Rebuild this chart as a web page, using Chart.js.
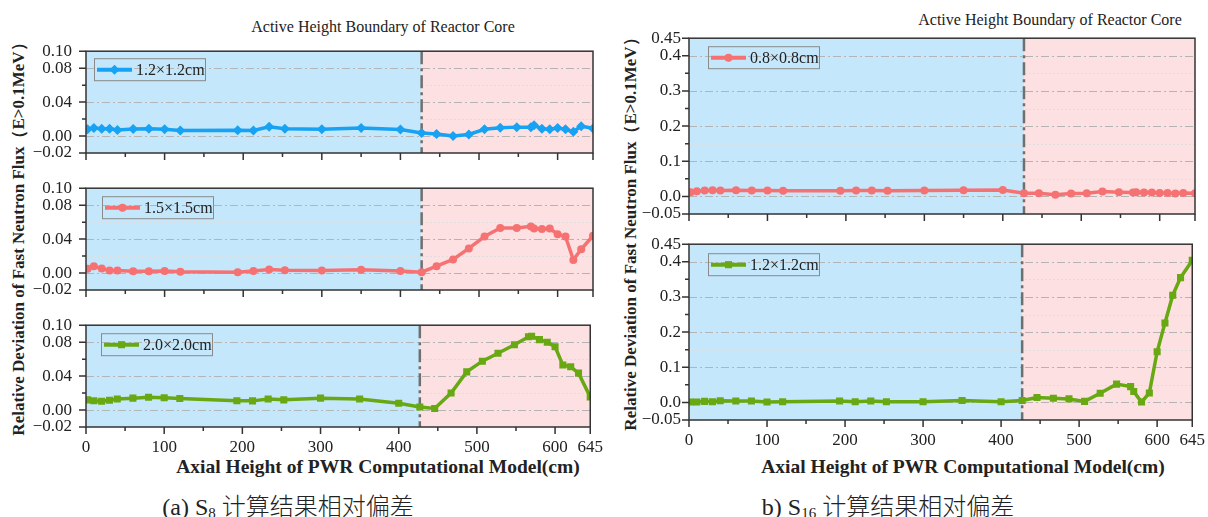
<!DOCTYPE html>
<html>
<head>
<meta charset="utf-8">
<script src="https://cdn.jsdelivr.net/npm/chart.js@4.4.1/dist/chart.umd.min.js"></script>
<style>
body { margin: 0; background: #fff; width: 1208px; height: 517px; position: relative; overflow: hidden;
       font-family: "Liberation Serif", "Times New Roman", serif; color: #222; }
canvas { position: absolute; }
.txt { position: absolute; white-space: nowrap; transform: translate(-50%, -50%); }
.ytitle { position: absolute; white-space: nowrap; font-weight: bold; font-size: 17px;
          transform: translate(-50%, -50%) rotate(-90deg); }
.xtitle { font-weight: bold; font-size: 19.5px; }
.note { font-size: 16px; }
.cap { font-size: 24px; }
.cap .cn { font-family: "Noto Sans CJK SC", sans-serif; font-weight: 300; }
.cap sub { font-size: 15px; vertical-align: -3px; }
</style>
</head>
<body>

<div class="ytitle" style="left:18px;top:235px">Relative Deviation of Fast Neutron Flux（E&gt;0.1MeV）</div>
<div class="ytitle" style="left:630px;top:230px">Relative Deviation of Fast Neutron Flux（E&gt;0.1MeV）</div>
<div class="txt note" style="left:383px;top:27px">Active Height Boundary of Reactor Core</div>
<div class="txt note" style="left:1050px;top:20px">Active Height Boundary of Reactor Core</div>
<div class="txt xtitle" style="left:378px;top:467px">Axial Height of PWR Computational Model(cm)</div>
<div class="txt xtitle" style="left:963px;top:467px">Axial Height of PWR Computational Model(cm)</div>
<div class="txt cap" style="left:288px;top:504px">(a) S<sub>8</sub> <span class="cn">计算结果相对偏差</span></div>
<div class="txt cap" style="left:888px;top:504px">b) S<sub>16</sub> <span class="cn">计算结果相对偏差</span></div>

<script>
// axial heights (cm), same for every curve
const heights = [2, 10, 20, 30, 40, 60, 80, 100, 120, 193, 213, 233, 253, 300, 350, 400,
                 427, 446, 467, 487, 507, 527, 548, 566, 570, 580, 590, 600, 610, 620, 630, 645];
const coreBoundary = 427;

// S8 results
const s8_12 = [0.008, 0.0094, 0.0087, 0.0087, 0.0072, 0.0083, 0.0087, 0.008, 0.0065, 0.0069, 0.0065, 0.011, 0.0087,
               0.008, 0.0094, 0.0076, 0.0036, 0.0025, 0.0, 0.0018, 0.008, 0.0097, 0.0105, 0.0105, 0.0126,
               0.0087, 0.008, 0.0094, 0.008, 0.005, 0.0116, 0.009];
const s8_15 = [0.005, 0.008, 0.0054, 0.003, 0.003, 0.002, 0.002, 0.0025, 0.0014, 0.001, 0.0025, 0.0043, 0.0032,
               0.003, 0.004, 0.0025, 0.001, 0.008, 0.016, 0.029, 0.043, 0.053, 0.053, 0.055, 0.0525,
               0.052, 0.0525, 0.0457, 0.043, 0.0155, 0.028, 0.044];
const s8_20 = [0.012, 0.011, 0.0104, 0.0115, 0.013, 0.014, 0.015, 0.0144, 0.0137, 0.011, 0.0108, 0.013, 0.012,
               0.014, 0.013, 0.008, 0.0036, 0.0018, 0.020, 0.045, 0.0576, 0.067, 0.077, 0.0863, 0.087,
               0.083, 0.080, 0.0745, 0.053, 0.051, 0.0435, 0.0155];
// S16 results
const s16_08 = [0.012, 0.015, 0.0167, 0.0176, 0.0167, 0.0176, 0.0167, 0.0167, 0.016, 0.016, 0.0167, 0.0167, 0.016,
                0.0167, 0.0176, 0.0185, 0.009, 0.009, 0.0046, 0.0083, 0.009, 0.014, 0.012, 0.011, 0.012,
                0.011, 0.011, 0.010, 0.010, 0.0083, 0.010, 0.009];
const s16_12 = [0.001, 0.001, 0.003, 0.002, 0.005, 0.004, 0.004, 0.001, 0.002, 0.004, 0.002, 0.004, 0.002,
                0.002, 0.0055, 0.002, 0.0055, 0.014, 0.012, 0.010, 0.003, 0.026, 0.052, 0.045, 0.031,
                0.001, 0.027, 0.144, 0.226, 0.305, 0.355, 0.404];

// tick values and labels
const xTicks = [0, 50, 100, 150, 200, 250, 300, 350, 400, 450, 500, 550, 600, 645];
const xTickLabels = ['0', '', '100', '', '200', '', '300', '', '400', '', '500', '', '600', '645'];
const yTicksA = [-0.02, 0, 0.02, 0.04, 0.06, 0.08, 0.10];
const yTickLabelsA = ['−0.02', '0.00', '', '0.04', '', '0.08', '0.10'];
const yTicksB = [-0.05, 0, 0.05, 0.1, 0.15, 0.2, 0.25, 0.3, 0.35, 0.4, 0.45];
const yTickLabelsB = ['−0.05', '0.0', '', '0.1', '', '0.2', '', '0.3', '', '0.4', '0.45'];

const tickFont = { family: '"Liberation Serif", "Times New Roman", serif', size: 17 };

const panelPlugin = {
  id: 'panel',
  beforeDatasetsDraw(chart, args, opts) {
    const { ctx, chartArea: a, scales: { x, y } } = chart;
    const bx = x.getPixelForValue(coreBoundary);
    ctx.save();
    ctx.fillStyle = '#c4e7fb';
    ctx.fillRect(a.left, a.top, bx - a.left, a.bottom - a.top);
    ctx.fillStyle = '#fde0e1';
    ctx.fillRect(bx, a.top, a.right - bx, a.bottom - a.top);
    // grid lines
    ctx.lineWidth = 1;
    opts.yTicks.forEach((v, i) => {
      if (i === 0 || i === opts.yTicks.length - 1) return;
      const py = Math.round(y.getPixelForValue(v)) + 0.5;
      const major = opts.yLabels[i] !== '';
      ctx.strokeStyle = major ? '#b4b4b4' : '#dedede';
      ctx.setLineDash(major ? [8, 3, 2, 3] : [2, 2]);
      ctx.beginPath();
      ctx.moveTo(a.left, py);
      ctx.lineTo(a.right, py);
      ctx.stroke();
    });
    // core boundary
    ctx.strokeStyle = '#6f6f6f';
    ctx.lineWidth = 2.5;
    ctx.setLineDash([13, 4, 3, 4]);
    ctx.beginPath();
    ctx.moveTo(bx, a.top);
    ctx.lineTo(bx, a.bottom);
    ctx.stroke();
    ctx.restore();
  },
  afterDraw(chart, args, opts) {
    const { ctx, chartArea: a, scales: { x, y } } = chart;
    ctx.save();
    ctx.strokeStyle = '#333';
    ctx.lineWidth = 1.5;
    ctx.strokeRect(a.left, a.top, a.right - a.left, a.bottom - a.top);
    // tick marks
    ctx.beginPath();
    opts.yTicks.forEach((v, i) => {
      const py = y.getPixelForValue(v);
      const len = opts.yLabels[i] !== '' ? 7 : 4;
      ctx.moveTo(a.left, py);
      ctx.lineTo(a.left - len, py);
    });
    xTicks.forEach((v, i) => {
      const px = x.getPixelForValue(v);
      const len = xTickLabels[i] !== '' ? 7 : 4;
      ctx.moveTo(px, a.bottom);
      ctx.lineTo(px, a.bottom + len);
    });
    ctx.stroke();
    // legend box
    const ds = chart.data.datasets[0];
    const bx = a.left + opts.legend[0], by = a.top + opts.legend[1];
    ctx.lineWidth = 1;
    ctx.strokeStyle = '#8a8a8a';
    ctx.strokeRect(bx + 0.5, by + 0.5, 111, 22);
    const my = by + 11.5;
    ctx.strokeStyle = ds.borderColor;
    ctx.lineWidth = 4;
    ctx.beginPath();
    ctx.moveTo(bx + 3, my);
    ctx.lineTo(bx + 38, my);
    ctx.stroke();
    ctx.fillStyle = ds.borderColor;
    const cx = bx + 20.5, r = ds.pointRadius;
    ctx.beginPath();
    if (ds.pointStyle === 'circle') ctx.arc(cx, my, r, 0, Math.PI * 2);
    else if (ds.pointStyle === 'rect') { const s = r * Math.SQRT1_2; ctx.rect(cx - s, my - s, 2 * s, 2 * s); }
    else { ctx.moveTo(cx, my - r); ctx.lineTo(cx + r, my); ctx.lineTo(cx, my + r); ctx.lineTo(cx - r, my); ctx.closePath(); }
    ctx.fill();
    ctx.fillStyle = '#222';
    ctx.font = '16px "Liberation Serif", "Times New Roman", serif';
    ctx.textBaseline = 'middle';
    ctx.fillText(ds.label, bx + 42, my + 1);
    ctx.restore();
  }
};

function makePanel(area, label, values, color, style, radius, yTicks, yLabels, yPad, showX, legend) {
  const padL = 64, padT = 14, padR = 20, padB = 35;
  const c = document.createElement('canvas');
  const w = area.r - area.l + padL + padR, h = area.b - area.t + padT + padB;
  c.width = w; c.height = h;
  c.style.left = (area.l - padL) + 'px';
  c.style.top = (area.t - padT) + 'px';
  document.body.appendChild(c);
  new Chart(c, {
    type: 'line',
    data: {
      datasets: [{
        label: label,
        data: heights.map((hgt, i) => ({ x: hgt, y: values[i] })),
        borderColor: color,
        backgroundColor: color,
        borderWidth: 3.5,
        pointStyle: style,
        pointRadius: radius,
        pointBorderWidth: 0,
        tension: 0
      }]
    },
    options: {
      responsive: false,
      animation: false,
      layout: { padding: { left: 0, top: padT, right: padR, bottom: 0 } },
      plugins: {
        legend: { display: false },
        tooltip: { enabled: false },
        panel: { yTicks: yTicks, yLabels: yLabels, legend: legend }
      },
      scales: {
        x: {
          type: 'linear', min: 0, max: 645,
          grid: { display: false, drawTicks: false },
          border: { display: false },
          afterBuildTicks: s => { s.ticks = xTicks.map(v => ({ value: v })); },
          afterFit: s => { s.height = padB; },
          ticks: {
            autoSkip: false, maxRotation: 0, padding: 10, font: tickFont, color: '#222',
            callback: (v, i) => showX ? xTickLabels[i] : ''
          }
        },
        y: {
          min: yTicks[0], max: yTicks[yTicks.length - 1],
          grid: { display: false, drawTicks: false },
          border: { display: false },
          afterBuildTicks: s => { s.ticks = yTicks.map(v => ({ value: v })); },
          afterFit: s => { s.width = padL; },
          ticks: {
            autoSkip: false, padding: yPad, font: tickFont, color: '#222',
            callback: (v, i) => yLabels[i]
          }
        }
      }
    },
    plugins: [panelPlugin]
  });
}

const blue = '#17a2f3', red = '#f67272', green = '#68a812';
makePanel({ l: 86, t: 41, r: 593, b: 153 }, '1.2×1.2cm', s8_12, blue, 'rectRot', 5, yTicksA, yTickLabelsA, 14, false, [8, 7]);
makePanel({ l: 86, t: 178, r: 593, b: 290 }, '1.5×1.5cm', s8_15, red, 'circle', 4, yTicksA, yTickLabelsA, 14, false, [16, 8]);
makePanel({ l: 86, t: 315, r: 593, b: 427 }, '2.0×2.0cm', s8_20, green, 'rect', 5, yTicksA, yTickLabelsA, 14, true, [15, 8]);
makePanel({ l: 689, t: 34, r: 1195, b: 214 }, '0.8×0.8cm', s16_08, red, 'circle', 4, yTicksB, yTickLabelsB, 8, false, [19, 8]);
makePanel({ l: 689, t: 240, r: 1195, b: 420 }, '1.2×1.2cm', s16_12, green, 'rect', 5, yTicksB, yTickLabelsB, 8, true, [19, 9]);
</script>
</body>
</html>
